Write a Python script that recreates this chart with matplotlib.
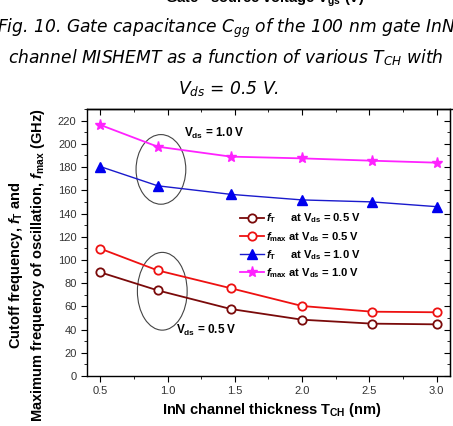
import matplotlib
matplotlib.use("Agg")
import matplotlib.pyplot as plt
from matplotlib.patches import Ellipse
from matplotlib.ticker import MultipleLocator

plt.rcParams['font.family'] = 'Liberation Sans'
plt.rcParams['mathtext.fontset'] = 'custom'
plt.rcParams['mathtext.it'] = 'Liberation Sans:bold:italic'
plt.rcParams['mathtext.rm'] = 'Liberation Sans:bold'

# channel thickness (nm)
tch = [0.5, 0.925, 1.47, 2.0, 2.52, 3.0]

# frequencies (GHz)
ft_05 = [89.3, 73.8, 57.7, 48.5, 45.1, 44.5]
fmax_05 = [109.7, 91.0, 75.6, 60.3, 55.4, 54.9]
ft_10 = [180.4, 163.9, 156.5, 151.7, 150.0, 145.9]
fmax_10 = [216.3, 197.6, 189.0, 187.5, 185.5, 183.8]

labels = [r"$\mathit{f}_{\mathdefault{T}}$     at V$_{\mathdefault{ds}}$ = 0.5 V",
          r"$\mathit{f}_{\mathdefault{max}}$ at V$_{\mathdefault{ds}}$ = 0.5 V",
          r"$\mathit{f}_{\mathdefault{T}}$     at V$_{\mathdefault{ds}}$ = 1.0 V",
          r"$\mathit{f}_{\mathdefault{max}}$ at V$_{\mathdefault{ds}}$ = 1.0 V"]

fig = plt.figure(figsize=(4.53, 4.26), dpi=100)
ax = fig.add_axes([0.192, 0.1174, 0.8014, 0.6266])

ax.plot(tch, ft_05, '-o', color='#7a0a0a', mfc='white', mec='#7a0a0a', ms=6, mew=1.3, lw=1.3, label=labels[0])
ax.plot(tch, fmax_05, '-o', color='#ee1111', mfc='white', mec='#ee1111', ms=6, mew=1.3, lw=1.3, label=labels[1])
ax.plot(tch, ft_10, '-^', color='#1a1acc', mfc='#0000ee', mec='#0000ee', ms=6.5, lw=1.0, label=labels[2])
ax.plot(tch, fmax_10, '-*', color='#ff22ff', mfc='#ff22ff', mec='#ff22ff', ms=8, lw=1.3, label=labels[3])

# ellipses grouping the curves
ax.add_patch(Ellipse((0.95, 178), 0.37, 60, fill=False, ec='#444444', lw=0.8))
ax.add_patch(Ellipse((0.96, 73), 0.37, 67, fill=False, ec='#444444', lw=0.8))
ax.text(1.12, 209, r"V$_{\mathdefault{ds}}$ = 1.0 V", fontsize=8.5, fontweight='bold', va='center')
ax.text(1.06, 39, r"V$_{\mathdefault{ds}}$ = 0.5 V", fontsize=8.5, fontweight='bold', va='center')

ax.set_xlim(0.4, 3.1)
ax.set_ylim(0, 230)
ax.xaxis.set_major_locator(MultipleLocator(0.5))
ax.xaxis.set_minor_locator(MultipleLocator(0.25))
ax.yaxis.set_major_locator(MultipleLocator(20))
ax.yaxis.set_minor_locator(MultipleLocator(10))
ax.set_xticks([0.5, 1.0, 1.5, 2.0, 2.5, 3.0])
ax.tick_params(which='both', direction='out', labelsize=8, labelcolor='#333333')
ax.tick_params(which='major', length=4)
ax.tick_params(which='minor', length=2)
for s in ax.spines.values():
    s.set_linewidth(1.0)

# inward ticks on top and right
top = ax.secondary_xaxis('top')
top.set_xticks([0.5, 1.0, 1.5, 2.0, 2.5, 3.0])
top.xaxis.set_minor_locator(MultipleLocator(0.25))
top.tick_params(which='both', direction='in', labeltop=False)
top.tick_params(which='major', length=4)
top.tick_params(which='minor', length=2)
right = ax.secondary_yaxis('right')
right.yaxis.set_major_locator(MultipleLocator(20))
right.yaxis.set_minor_locator(MultipleLocator(10))
right.tick_params(which='both', direction='in', labelright=False)
right.tick_params(which='major', length=4)
right.tick_params(which='minor', length=2)

fig.text(272 / 453, 1 - 410 / 426, r"InN channel thickness T$_{\mathdefault{CH}}$ (nm)",
         ha='center', va='center', fontsize=10.5, fontweight='bold')

fig.text(16 / 453, 1 - 265 / 426, r"Cutoff frequency, $\mathit{f}_{\mathdefault{T}}$ and",
         rotation=90, ha='center', va='center', fontsize=10.5, fontweight='bold')
fig.text(38 / 453, 1 - 265 / 426, r"Maximum frequency of oscillation, $\mathit{f}_{\mathdefault{max}}$ (GHz)",
         rotation=90, ha='center', va='center', fontsize=10.5, fontweight='bold')

leg = ax.legend(loc='upper left', bbox_to_anchor=(0.4, 0.645), frameon=False, fontsize=8,
                handlelength=2.2, handletextpad=0.1, labelspacing=0.4, borderpad=0.2)
for t in leg.get_texts():
    t.set_fontweight('bold')

# caption text from the page
fig.text(265 / 453, 1 - 3 / 426, r"Gate - source voltage V$_{\mathdefault{gs}}$ (V)",
         ha='center', va='baseline', fontsize=10.5, fontweight='bold')
cap = dict(ha='center', va='center', fontsize=12.3, family='DejaVu Sans', style='italic')
fig.text(226 / 453, 1 - 28 / 426, r"Fig. 10. Gate capacitance C$_{\mathdefault{gg}}$ of the 100 nm gate InN", **cap)
fig.text(226 / 453, 1 - 58 / 426, r"channel MISHEMT as a function of various T$_{\mathdefault{CH}}$ with", **cap)
fig.text(228 / 453, 1 - 89 / 426, r"V$_{\mathdefault{ds}}$ = 0.5 V.", **cap)
fig.add_artist(plt.Line2D([87 / 453, 1.0], [1 - 109 / 426] * 2, color='black', lw=1.0))

fig.savefig("out.png", dpi=100)
